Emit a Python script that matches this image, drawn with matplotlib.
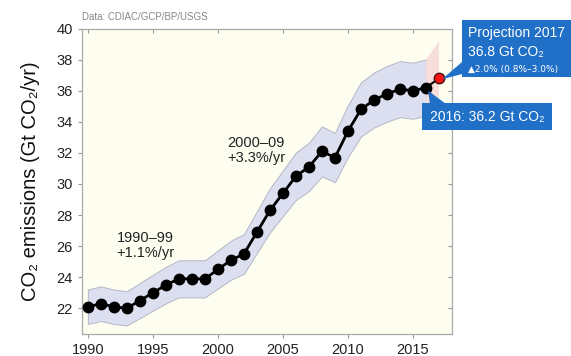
import matplotlib
matplotlib.use("Agg")
import matplotlib.pyplot as plt
import matplotlib.lines as mlines
from matplotlib.patches import Rectangle, Polygon
from matplotlib.transforms import IdentityTransform
import numpy as np

plt.rcParams['font.family'] = ['Liberation Sans', 'DejaVu Sans']

# Fossil CO2 emissions (Gt CO2/yr)
years = list(range(1990, 2017))
emissions = [22.1, 22.3, 22.1, 22.0, 22.5, 23.0, 23.5, 23.9, 23.9, 23.9,
             24.5, 25.1, 25.5, 26.9, 28.3, 29.4, 30.5, 31.1, 32.1, 31.7,
             33.4, 34.8, 35.4, 35.8, 36.1, 36.0, 36.2]
uncertainty = 0.05          # +/- 5 %
proj_year = 2017
proj_value = 36.8
proj_growth = 2.0
proj_range = [0.8, 3.0]     # % growth range

xticks = [1990, 1995, 2000, 2005, 2010, 2015]
yticks = [22, 24, 26, 28, 30, 32, 34, 36, 38, 40]

BLUE = '#2070c8'

fig = plt.figure(figsize=(5.71, 3.56), dpi=100)
ax = fig.add_axes([0.1436, 0.0618, 0.648, 0.858])
ax.set_facecolor('#fdfdf0')

e = np.array(emissions)
ax.fill_between(years, e * (1 - uncertainty), e * (1 + uncertainty),
                facecolor='#dcdff0', edgecolor='#b4b6c6', linewidth=0.7, zorder=1)

# projection band: last year -> projection year
last = emissions[-1]
lo = last * (1 + proj_range[0] / 100) * (1 - uncertainty)
hi = last * (1 + proj_range[1] / 100) * (1 + uncertainty)
ax.fill_between([years[-1], proj_year],
                [last * (1 - uncertainty), lo],
                [last * (1 + uncertainty), hi],
                facecolor='#f7dbd8', edgecolor='none', alpha=0.9, zorder=1)

ax.plot(years, emissions, color='black', linewidth=2, marker='o',
        markersize=7.5, zorder=3)
ax.plot([years[-1], proj_year], [last, proj_value], color='black',
        linewidth=1.5, zorder=3)
ax.plot([proj_year], [proj_value], marker='o', markersize=7.5,
        markerfacecolor='#ff1010', markeredgecolor='#401010',
        markeredgewidth=1, zorder=4)

ax.set_xlim(1989.55, 2018.0)
ax.set_ylim(20.35, 40)
ax.set_xticks(xticks)
ax.set_yticks(yticks)
ax.tick_params(axis='both', labelsize=10.5, colors='#222222', length=3,
               color='#999999', width=0.8, top=True, right=True,
               direction='out')
# top and right ticks point into the plot
for t in ax.xaxis.get_major_ticks():
    t.tick2line.set_marker(mlines.TICKDOWN)
for t in ax.yaxis.get_major_ticks():
    t.tick2line.set_marker(mlines.TICKLEFT)
for s in ax.spines.values():
    s.set_color('#aaaaaa')
    s.set_linewidth(0.9)

ax.set_ylabel('CO₂ emissions (Gt CO₂/yr)', fontsize=14.5, color='#111111',
              labelpad=12)

ax.text(1992.2, 27.0, '1990–99\n+1.1%/yr', fontsize=10.5, va='top',
        ha='left', color='#222222', linespacing=1.15)
ax.text(2000.7, 33.1, '2000–09\n+3.3%/yr', fontsize=10.5, va='top',
        ha='left', color='#222222', linespacing=1.15)

fig.text(0.1436, 0.952, 'Data: CDIAC/GCP/BP/USGS', fontsize=7,
         color='#888888', ha='left', va='center')

W, H = 571, 356


def box(x0, y0, x1, y1):
    # pixel box given with y measured from the top of the image
    fig.add_artist(Rectangle((x0, H - y1), x1 - x0, y1 - y0,
                             transform=IdentityTransform(),
                             facecolor=BLUE, edgecolor='none', zorder=5))


def wedge(tip, a, b):
    fig.add_artist(Polygon([tip, (a[0], H - a[1]), (b[0], H - b[1])],
                           closed=True, transform=IdentityTransform(),
                           facecolor=BLUE, edgecolor='none', zorder=5))


fig.canvas.draw()
tip_proj = ax.transData.transform((proj_year, proj_value))
tip_last = ax.transData.transform((years[-1], last))

# projection callout
box(462, 20, 571, 77)
wedge((tip_proj[0] + 3, tip_proj[1] - 1), (462, 62), (462, 74))
fig.text(468 / W, 1 - 33 / H, f'Projection {proj_year}', fontsize=10,
         color='white', ha='left', va='center', zorder=6)
fig.text(468 / W, 1 - 52 / H, f'{proj_value} Gt CO₂', fontsize=10,
         color='white', ha='left', va='center', zorder=6)
fig.text(468 / W, 1 - 69 / H,
         f'▲{proj_growth}% ({proj_range[0]}%–{proj_range[1]}%)',
         fontsize=6.5, color='white', ha='left', va='center', zorder=6,
         family=['DejaVu Sans'])

# last year callout
box(422, 103, 552, 130)
wedge((tip_last[0] + 2, tip_last[1] - 3), (430, 104), (446, 104))
fig.text(487 / W, 1 - 117 / H, f'{years[-1]}: {last} Gt CO₂', fontsize=10,
         color='white', ha='center', va='center', zorder=6)

fig.savefig('out.png', dpi=100)
